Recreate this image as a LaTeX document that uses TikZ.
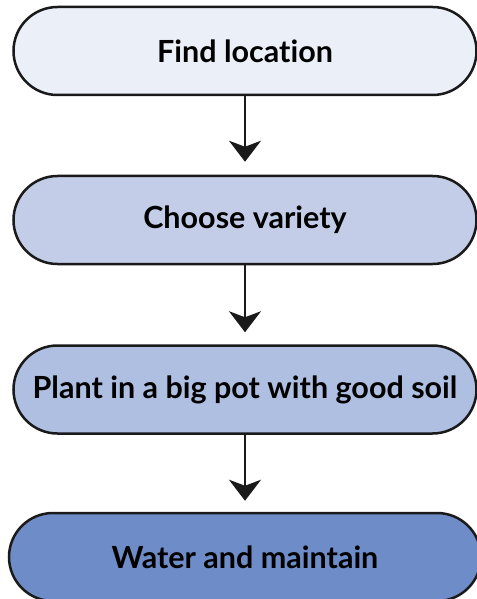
\documentclass[tikz,border=0pt]{standalone}
\usepackage{fontspec}
\setmainfont{Lato}[Ligatures={NoCommon}]
\usetikzlibrary{arrows.meta}
\definecolor{stepA}{HTML}{EAEFF8}
\definecolor{stepB}{HTML}{C3CDE7}
\definecolor{stepC}{HTML}{AFBFE1}
\definecolor{stepD}{HTML}{6E8CC7}
\definecolor{ink}{HTML}{1A1A1A}
\tikzset{
  stage/.style={draw=ink, line width=2.5bp, rectangle, rounded corners=44bp,
    minimum width=463bp, minimum height=88bp, inner sep=0pt,
    font=\bfseries\fontsize{30.5bp}{36bp}\selectfont, text=black},
  flow/.style={draw=ink, line width=2.2bp,
    -{Stealth[length=21bp, width=32bp, inset=6bp]}}
}
\begin{document}
\begin{tikzpicture}[x=1bp, y=-1bp]
  \useasboundingbox (0,0) rectangle (477,599);
  \node[stage, fill=stepA] (s1) at (245,51) {Find location};
  \node[stage, fill=stepB] (s2) at (245,220) {Choose variety};
  \node[stage, fill=stepC] (s3) at (245,389.5) {Plant in a big pot with good soil};
  \node[stage, fill=stepD, minimum width=472bp] (s4) at (245,557) {Water and maintain};
  \draw[flow] (s1.south) -- ([yshift=13bp]s2.north);
  \draw[flow] (s2.south) -- ([yshift=12bp]s3.north);
  \draw[flow] (s3.south) -- ([yshift=11bp]s4.north);
\end{tikzpicture}
\end{document}
